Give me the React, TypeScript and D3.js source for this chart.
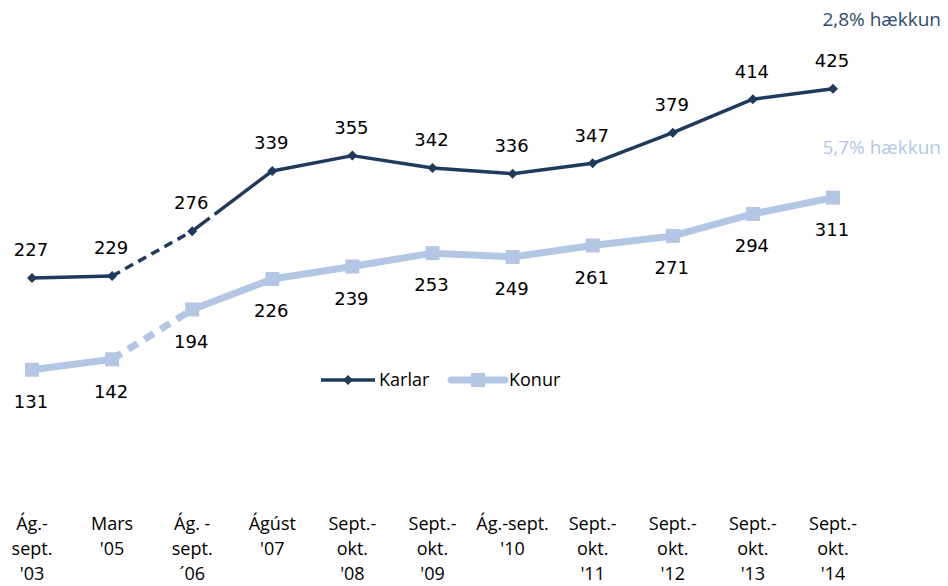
import React from "react";
import * as d3 from "d3";

const categories: string[][] = [
  ["Ág.-", "sept.", "'03"],
  ["Mars", "'05"],
  ["Ág. -", "sept.", "´06"],
  ["Ágúst", "'07"],
  ["Sept.-", "okt.", "'08"],
  ["Sept.-", "okt.", "'09"],
  ["Ág.-sept.", "'10"],
  ["Sept.-", "okt.", "'11"],
  ["Sept.-", "okt.", "'12"],
  ["Sept.-", "okt.", "'13"],
  ["Sept.-", "okt.", "'14"],
];
const karlar: number[] = [227, 229, 276, 339, 355, 342, 336, 347, 379, 414, 425];
const konur: number[] = [131, 142, 194, 226, 239, 253, 249, 261, 271, 294, 311];
const seriesNames = ["Karlar", "Konur"];
const notes = ["2,8% hækkun", "5,7% hækkun"];

const W = 948;
const H = 586;
const C_K = "#1F3A5D";
const C_W = "#B3C7E4";
const C_NOTE = "#2F4B70";

export default function App() {
  const x = d3
    .scalePoint<number>()
    .domain(d3.range(categories.length))
    .range([32, 833]);
  const y = d3.scaleLinear().domain([0, 500]).range([495, 17]);
  const line = d3
    .line<[number, number]>()
    .x((d) => x(d[0]) as number)
    .y((d) => y(d[1]));

  const segs = (vals: number[]) =>
    vals.slice(1).map((v, i) => [
      [i, vals[i]] as [number, number],
      [i + 1, v] as [number, number],
    ]);

  const kDash = (i: number) => (i === 1 ? "9 6" : i === 2 ? "22 6 400" : undefined);
  const wDash = (i: number) => (i === 1 ? "11 8" : undefined);

  const diamond = (cx: number, cy: number, r: number) =>
    `M${cx},${cy - r}L${cx + r},${cy}L${cx},${cy + r}L${cx - r},${cy}Z`;

  return (
    <svg
      width={W}
      height={H}
      style={{ position: "absolute", left: 0, top: 0, background: "#fff" }}
    >
      {/* Konur line */}
      {segs(konur).map((s, i) => (
        <path
          key={"w" + i}
          d={line(s) || ""}
          fill="none"
          stroke={C_W}
          strokeWidth={7}
          strokeDasharray={wDash(i)}
        />
      ))}
      {konur.map((v, i) => (
        <rect
          key={"wm" + i}
          x={(x(i) as number) - 7}
          y={y(v) - 7}
          width={14}
          height={14}
          fill={C_W}
        />
      ))}
      {/* Karlar line */}
      {segs(karlar).map((s, i) => (
        <path
          key={"k" + i}
          d={line(s) || ""}
          fill="none"
          stroke={C_K}
          strokeWidth={3.5}
          strokeDasharray={kDash(i)}
        />
      ))}
      {karlar.map((v, i) => (
        <path key={"km" + i} d={diamond(x(i) as number, y(v), 5)} fill={C_K} />
      ))}
      {/* data labels */}
      <g fontFamily="DejaVu Sans" fontSize={18} fill="#000" textAnchor="middle">
        {karlar.map((v, i) => (
          <text key={"kl" + i} x={(x(i) as number) - 1} y={y(v) - 28} dy="0.35em">
            {v}
          </text>
        ))}
        {konur.map((v, i) => (
          <text key={"wl" + i} x={(x(i) as number) - 1} y={y(v) + 32} dy="0.35em">
            {v}
          </text>
        ))}
      </g>
      {/* x labels */}
      <g fontFamily="Open Sans" fontSize={18} fill="#000" textAnchor="middle">
        {categories.map((lines, i) => (
          <text key={"x" + i} x={x(i) as number} y={524}>
            {lines.map((l, j) => (
              <tspan key={j} x={x(i) as number} dy={j === 0 ? "0.35em" : 25}>
                {l}
              </tspan>
            ))}
          </text>
        ))}
      </g>
      {/* legend */}
      <g fontFamily="Open Sans" fontSize={18} fill="#000">
        <line x1={321} x2={375} y1={380} y2={380} stroke={C_K} strokeWidth={3.5} />
        <path d={diamond(348, 380, 5)} fill={C_K} />
        <text x={379} y={380} dy="0.35em">
          {seriesNames[0]}
        </text>
        <line x1={451} x2={505} y1={380} y2={380} stroke={C_W} strokeWidth={7} strokeLinecap="round" />
        <rect x={471} y={373} width={14} height={14} fill={C_W} />
        <text x={509} y={380} dy="0.35em">
          {seriesNames[1]}
        </text>
      </g>
      {/* notes */}
      <g fontFamily="Open Sans" fontSize={19} textAnchor="end">
        <text x={941} y={19} dy="0.35em" fill={C_NOTE}>
          {notes[0]}
        </text>
        <text x={941} y={147} dy="0.35em" fill={C_W}>
          {notes[1]}
        </text>
      </g>
    </svg>
  );
}
